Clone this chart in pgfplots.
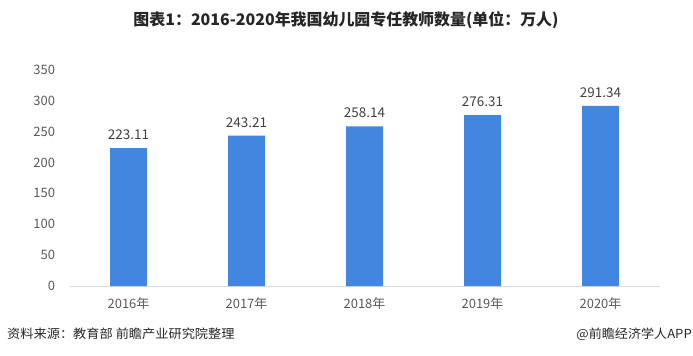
\documentclass[border=0pt]{standalone}
\usepackage{pgfplots}
\pgfplotsset{compat=1.18}
\usepackage{fontspec}
\setmainfont{Noto Sans CJK SC}
\definecolor{barblue}{HTML}{4286E0}
\definecolor{ticktxt}{HTML}{595959}
\definecolor{valtxt}{HTML}{404040}
\definecolor{axisgray}{HTML}{D9D9D9}
\begin{document}
\begin{tikzpicture}[x=1bp,y=1bp]
\path[use as bounding box] (0,0) rectangle (693,355);
\begin{axis}[
  at={(69.5bp,69bp)}, anchor=south west,
  scale only axis, width=590bp, height=216.3bp,
  xmin=-0.5, xmax=4.5, ymin=0, ymax=350,
  ytick={0,50,...,350},
  xtick={0,1,2,3,4},
  xticklabels={2016年,2017年,2018年,2019年,2020年},
  axis y line*=left, y axis line style={draw=none},
  axis x line*=bottom, x axis line style={draw=axisgray, line width=1bp},
  major tick length=0pt,
  tick label style={font=\fontsize{13}{13}\selectfont, text=ticktxt},
  /pgf/number format/assume math mode=true,
  yticklabel style={xshift=-11bp},
  xticklabel style={yshift=-8bp},
  clip=false,
  nodes near coords,
  nodes near coords style={font=\fontsize{13.5}{13.5}\selectfont, text=valtxt, yshift=5bp},
  point meta=explicit symbolic,
]
\addplot[ybar, bar width=37bp, fill=barblue, draw=none] coordinates {
 (0,223.11) [223.11]
 (1,243.21) [243.21]
 (2,258.14) [258.14]
 (3,276.31) [276.31]
 (4,291.34) [291.34]
};
\end{axis}
\node[font=\bfseries\fontsize{16}{16}\selectfont, text=black!85] at (346,335) {图表1：2016-2020年我国幼儿园专任教师数量(单位：万人)};
\node[anchor=west, font=\fontsize{12.5}{12.5}\selectfont, text=black!85, inner sep=0pt, xscale=1.06] at (7,21) {资料来源：教育部 前瞻产业研究院整理};
\node[anchor=east, font=\fontsize{12.5}{12.5}\selectfont, text=black!85, inner sep=0pt, xscale=1.05] at (692,21) {@前瞻经济学人APP};
\end{tikzpicture}
\end{document}
